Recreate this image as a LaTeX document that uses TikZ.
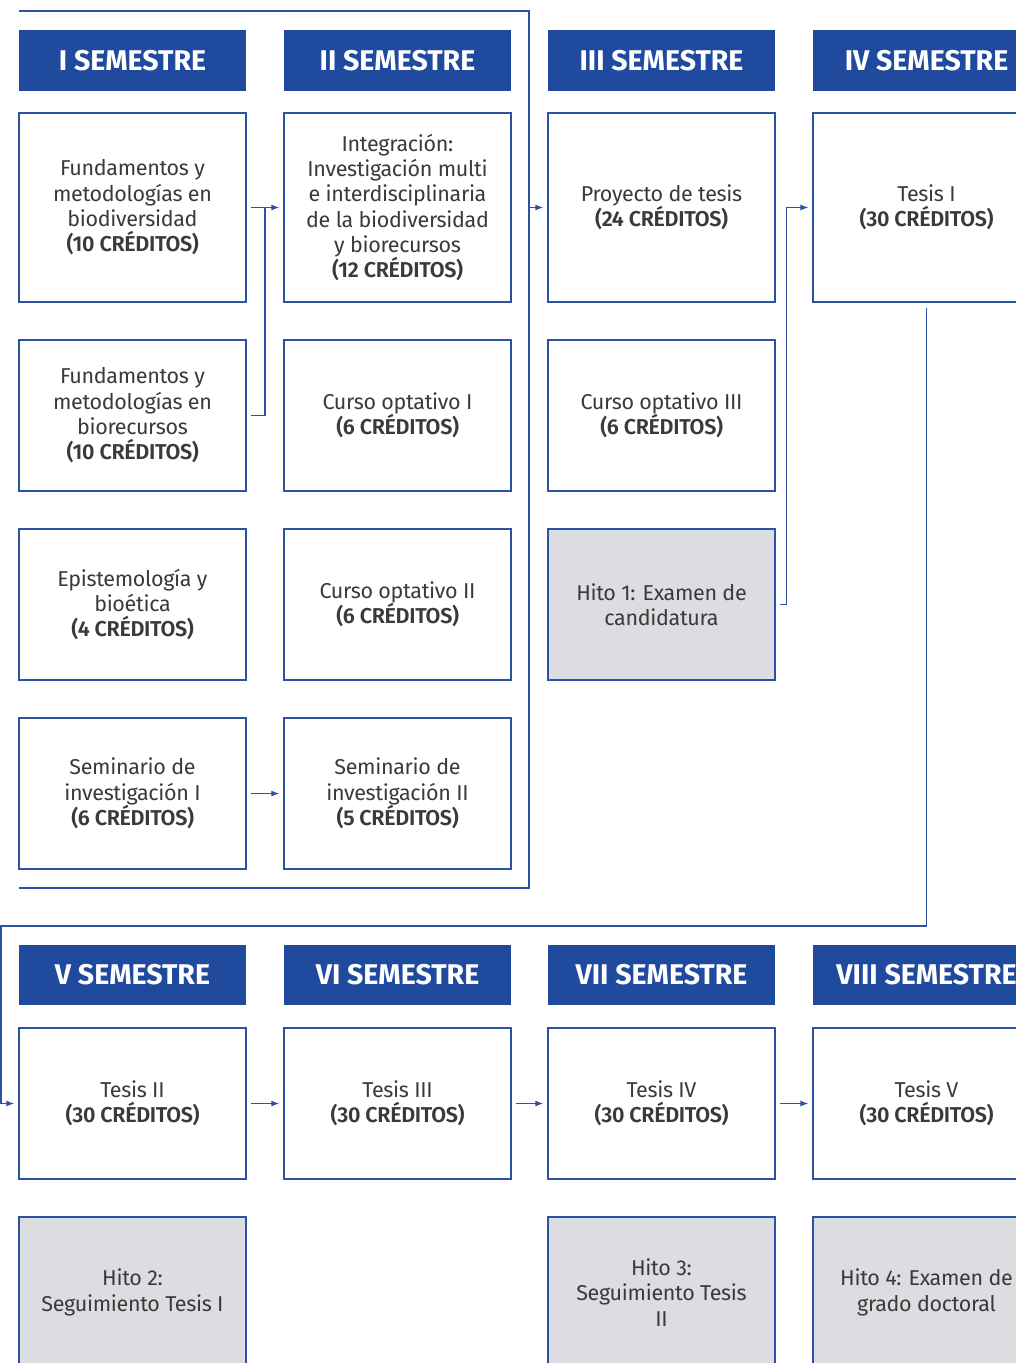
\documentclass[tikz,border=0pt]{standalone}
\usepackage{fontspec}
\setmainfont{Fira Sans}[BoldFont={Fira Sans SemiBold}, LetterSpace=-1.5]
\newfontfamily\hdrfont{Fira Sans Bold}
\usetikzlibrary{arrows.meta}
\definecolor{myblue}{HTML}{1F4A9E}
\definecolor{bline}{HTML}{2B52A3}
\definecolor{txt}{HTML}{3A3A3A}
\definecolor{hito}{HTML}{DCDDE0}
\begin{document}
\begin{tikzpicture}[x=1pt,y=-1pt,
 hdr/.style={fill=myblue, minimum width=227pt, minimum height=61pt, inner sep=0pt, text=white, font=\hdrfont\fontsize{28.5}{30}\selectfont},
 cbox/.style={draw=bline, line width=1.3pt, fill=white, minimum width=227pt, minimum height=151pt, inner sep=0pt, align=center, text=txt, font=\fontsize{21.5}{25.3}\selectfont},
 tall/.style={minimum height=189pt},
 gbox/.style={cbox, fill=hito},
 conn/.style={draw=bline, line width=1.2pt},
 arr/.style={conn, -{Latex[length=8pt,width=6pt]}},
]
\useasboundingbox (0,0) rectangle (1016,1363);
\clip (0,0) rectangle (1016,1363);
\fill[white] (0,0) rectangle (1016,1363);

% headers top
\node[hdr] (s1) at (132.5,60.5) {I SEMESTRE};
\node[hdr] (s2) at (397.5,60.5) {II SEMESTRE};
\node[hdr] (s3) at (661.5,60.5) {III SEMESTRE};
\node[hdr] (s4) at (926.5,60.5) {IV SEMESTRE};

% row 1
\node[cbox,tall] (f1) at (132.5,207.5) {Fundamentos y\\metodologías en\\biodiversidad\\\textbf{(10 CRÉDITOS)}};
\node[cbox,tall] (i1) at (397.5,207.5) {Integración:\\Investigación multi\\e interdisciplinaria\\de la biodiversidad\\y biorecursos\\\textbf{(12 CRÉDITOS)}};
\node[cbox,tall] (p3) at (661.5,207.5) {Proyecto de tesis\\\textbf{(24 CRÉDITOS)}};
\node[cbox,tall] (t1) at (926.5,207.5) {Tesis I\\\textbf{(30 CRÉDITOS)}};

% row 2
\node[cbox] (f2) at (132.5,415.5) {Fundamentos y\\metodologías en\\biorecursos\\\textbf{(10 CRÉDITOS)}};
\node[cbox] (o1) at (397.5,415.5) {Curso optativo I\\\textbf{(6 CRÉDITOS)}};
\node[cbox] (o3) at (661.5,415.5) {Curso optativo III\\\textbf{(6 CRÉDITOS)}};

% row 3
\node[cbox] (e1) at (132.5,604.5) {Epistemología y\\bioética\\\textbf{(4 CRÉDITOS)}};
\node[cbox] (o2) at (397.5,604.5) {Curso optativo II\\\textbf{(6 CRÉDITOS)}};
\node[gbox] (h1) at (661.5,604.5) {Hito 1: Examen de\\candidatura};

% row 4
\node[cbox] (sm1) at (132.5,793.5) {Seminario de\\investigación I\\\textbf{(6 CRÉDITOS)}};
\node[cbox] (sm2) at (397.5,793.5) {Seminario de\\investigación II\\\textbf{(5 CRÉDITOS)}};

% headers bottom
\node[hdr,minimum height=60pt] (s5) at (132.5,975) {V SEMESTRE};
\node[hdr,minimum height=60pt] (s6) at (397.5,975) {VI SEMESTRE};
\node[hdr,minimum height=60pt] (s7) at (661.5,975) {VII SEMESTRE};
\node[hdr,minimum height=60pt] (s8) at (926.5,975) {VIII SEMESTRE};

% bottom row 1
\node[cbox] (t2) at (132.5,1103.5) {Tesis II\\\textbf{(30 CRÉDITOS)}};
\node[cbox] (t3) at (397.5,1103.5) {Tesis III\\\textbf{(30 CRÉDITOS)}};
\node[cbox] (t4) at (661.5,1103.5) {Tesis IV\\\textbf{(30 CRÉDITOS)}};
\node[cbox] (t5) at (926.5,1103.5) {Tesis V\\\textbf{(30 CRÉDITOS)}};

% bottom row 2
\node[gbox] (h2) at (132.5,1292.5) {Hito 2:\\Seguimiento Tesis I};
\node[gbox] (h3) at (661.5,1292.5) {Hito 3:\\Seguimiento Tesis\\II};
\node[gbox] (h4) at (926.5,1292.5) {Hito 4: Examen de\\grado doctoral};

% frame around first two semesters
\coordinate (fa) at (19,11);
\coordinate (fb) at (529,11);
\coordinate (fc) at (529,888);
\coordinate (fd) at (19,888);
\coordinate (fe) at (529,207.5);
\draw[conn] (fa) -- (fb) -- (fc) -- (fd);
\draw[arr] (fe) -- ([xshift=-4pt]p3.west);

% fundamentos -> integracion
\coordinate (j1) at (265,207.5);
\draw[conn] ([xshift=4pt]f2.east) -| (j1);
\draw[arr] ([xshift=4pt]f1.east) -- ([xshift=-4pt]i1.west);

% seminario
\draw[arr] ([xshift=4pt]sm1.east) -- ([xshift=-4pt]sm2.west);

% hito 1 -> tesis I
\draw[arr] ([xshift=4pt]h1.east) -- ++(7,0) |- ([xshift=-4pt]t1.west);

% tesis I -> tesis II
\coordinate (k1) at (1,926);
\draw[arr] ([yshift=-5pt]t1.south) |- (k1) |- ([xshift=-4pt]t2.west);

% bottom arrows
\draw[arr] ([xshift=4pt]t2.east) -- ([xshift=-4pt]t3.west);
\draw[arr] ([xshift=4pt]t3.east) -- ([xshift=-4pt]t4.west);
\draw[arr] ([xshift=4pt]t4.east) -- ([xshift=-4pt]t5.west);
\end{tikzpicture}
\end{document}
